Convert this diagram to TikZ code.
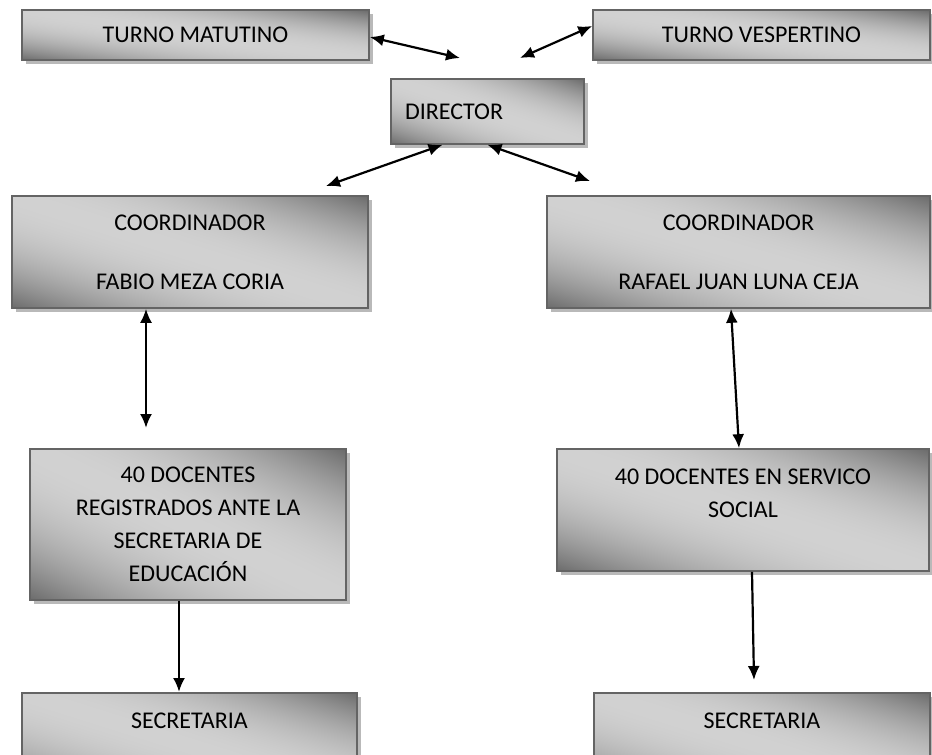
\documentclass[tikz,border=0pt]{standalone}
\usepackage{fontspec}
\setmainfont{Carlito}
\usetikzlibrary{arrows.meta,calc,shadows}
\definecolor{boxedge}{RGB}{100,100,100}
\definecolor{boxshadow}{RGB}{185,185,185}
\pgfdeclarefunctionalshading{boxgrad}{\pgfpoint{0bp}{0bp}}{\pgfpoint{100bp}{100bp}}{}{
  add 50 sub 100 div 0.5 sub abs 2 mul dup mul 0.40 mul 0.82 exch sub dup dup
}
\begin{document}
\begin{tikzpicture}[x=1pt,y=-1pt,
 box/.style 2 args={draw=boxedge, line width=1.6pt, rectangle, inner sep=0pt, align=center,
   minimum width=#1pt, minimum height=#2pt,
   shade, shading=boxgrad, shading angle=0,
   font=\fontsize{24}{33}\selectfont,
   drop shadow={shadow xshift=4pt, shadow yshift=-4pt, fill=boxshadow, opacity=1}},
 link/.style={line width=2.2pt, {Latex[length=14pt,width=12pt]}-{Latex[length=14pt,width=12pt]}},
 flow/.style={line width=2.2pt, -{Latex[length=14pt,width=12pt]}}]
\useasboundingbox (0,0) rectangle (932,755);
\clip (0,0) rectangle (932,755);
\node[box={347}{50}] (tm) at (195.5,35) {TURNO MATUTINO};
\node[box={337}{50}] (tv) at (761.5,35) {TURNO VESPERTINO};
\node[box={193}{65}, inner xsep=14pt, text width=165pt, align=left] (dir) at (487.5,111.5) {DIRECTOR};
\node[box={356}{112}] (cl) at (190,252) {COORDINADOR\\[26pt]FABIO MEZA CORIA};
\node[box={383}{112}] (cr) at (738.5,252) {COORDINADOR\\[26pt]RAFAEL JUAN LUNA CEJA};
\node[box={316}{151}] (dl) at (188,524.5) {40 DOCENTES\\REGISTRADOS ANTE LA\\SECRETARIA DE\\EDUCACIÓN};
\node[box={372}{122}] (dr) at (743,510) {40 DOCENTES EN SERVICO\\SOCIAL\\\mbox{}};
\node[box={335}{105.5}, text height=35.5pt, text depth=70pt, anchor=north] (sl) at (189.5,692) {SECRETARIA};
\node[box={336}{105.5}, text height=35.5pt, text depth=70pt, anchor=north] (sr) at (762,692) {SECRETARIA};
\coordinate (f1) at (460,58);
\coordinate (f2) at (520,58);
\coordinate (f3) at (326,186);
\coordinate (f4) at (590,181);
\coordinate (f5) at (146,428);
\coordinate (f8) at (754,680);
\draw[link] ([yshift=-2pt]tm.east) -- (f1);
\draw[link] ([yshift=9pt]tv.west) -- (f2);
\draw[link] ([xshift=-45pt]dir.south) -- (f3);
\draw[link] (dir.south) -- (f4);
\draw[link] ([xshift=-44pt]cl.south) -- (f5);
\draw[link] ([xshift=-7.5pt]cr.south) -- ([xshift=-4pt]dr.north);
\draw[flow] ([xshift=-9pt]dl.south) -- ([xshift=-10.5pt]sl.north);
\draw[flow] ([xshift=9pt]dr.south) -- (f8);
\end{tikzpicture}
\end{document}
